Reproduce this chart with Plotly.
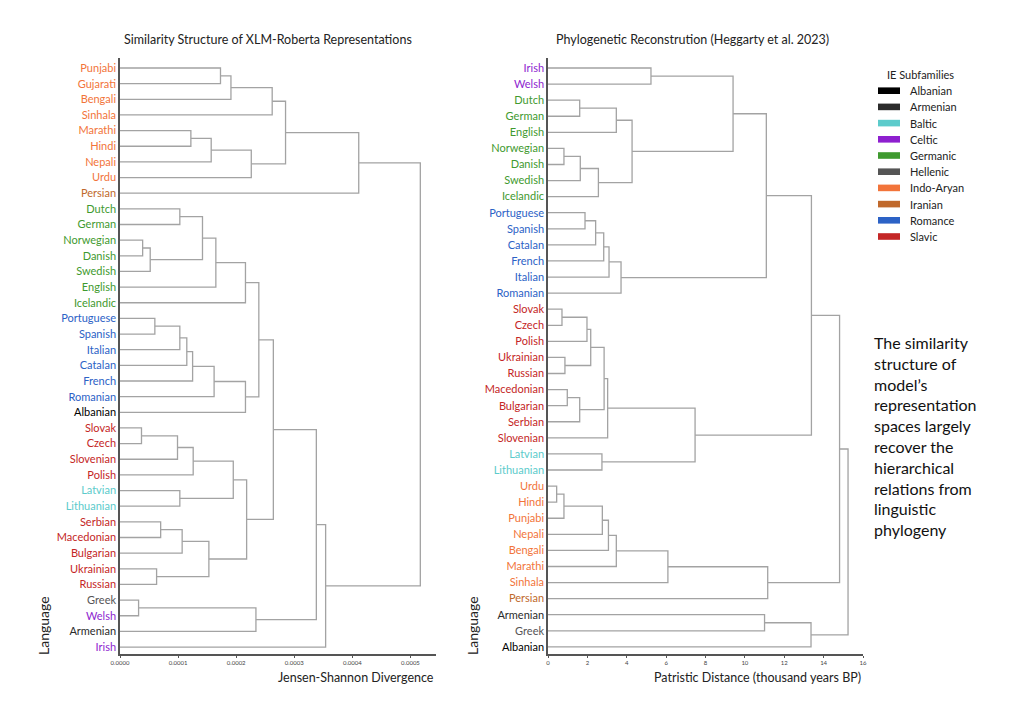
import plotly.graph_objects as go

# ---- data -------------------------------------------------------------
left_leaves = ["Punjabi", "Gujarati", "Bengali", "Sinhala", "Marathi", "Hindi", "Nepali", "Urdu",
               "Persian", "Dutch", "German", "Norwegian", "Danish", "Swedish", "English", "Icelandic",
               "Portuguese", "Spanish", "Italian", "Catalan", "French", "Romanian", "Albanian",
               "Slovak", "Czech", "Slovenian", "Polish", "Latvian", "Lithuanian", "Serbian",
               "Macedonian", "Bulgarian", "Ukrainian", "Russian", "Greek", "Welsh", "Armenian", "Irish"]

# (child a, child b, height, new cluster name)
left_merges = [
    ("Punjabi", "Gujarati", 0.000173, "L1"), ("L1", "Bengali", 0.000191, "L2"),
    ("L2", "Sinhala", 0.000262, "L3"), ("Marathi", "Hindi", 0.000122, "L4"),
    ("L4", "Nepali", 0.000157, "L5"), ("L5", "Urdu", 0.000226, "L6"),
    ("L3", "L6", 0.000285, "L7"), ("L7", "Persian", 0.000411, "L8"),
    ("Dutch", "German", 0.000103, "G1"), ("Norwegian", "Danish", 0.000039, "G2"),
    ("G2", "Swedish", 0.000052, "G3"), ("G1", "G3", 0.000142, "G4"),
    ("G4", "English", 0.000165, "G5"), ("G5", "Icelandic", 0.000216, "G6"),
    ("Portuguese", "Spanish", 0.000060, "R1"), ("R1", "Italian", 0.000103, "R2"),
    ("R2", "Catalan", 0.000115, "R3"), ("R3", "French", 0.000125, "R4"),
    ("R4", "Romanian", 0.000162, "R5"), ("R5", "Albanian", 0.000216, "R6"),
    ("G6", "R6", 0.000239, "E1"),
    ("Slovak", "Czech", 0.000037, "S1"), ("S1", "Slovenian", 0.000099, "S2"),
    ("S2", "Polish", 0.000126, "S3"), ("Latvian", "Lithuanian", 0.000103, "B1"),
    ("S3", "B1", 0.000195, "S4"), ("Serbian", "Macedonian", 0.000070, "S5"),
    ("S5", "Bulgarian", 0.000107, "S6"), ("Ukrainian", "Russian", 0.000063, "S7"),
    ("S6", "S7", 0.000153, "S8"), ("S4", "S8", 0.000218, "S9"),
    ("E1", "S9", 0.000264, "E2"), ("Greek", "Welsh", 0.000032, "H1"),
    ("H1", "Armenian", 0.000234, "H2"), ("E2", "H2", 0.000338, "E3"),
    ("E3", "Irish", 0.000354, "E4"), ("L8", "E4", 0.000517, "ROOT"),
]

right_leaves = ["Irish", "Welsh", "Dutch", "German", "English", "Norwegian", "Danish", "Swedish",
                "Icelandic", "Portuguese", "Spanish", "Catalan", "French", "Italian", "Romanian",
                "Slovak", "Czech", "Polish", "Ukrainian", "Russian", "Macedonian", "Bulgarian",
                "Serbian", "Slovenian", "Latvian", "Lithuanian", "Urdu", "Hindi", "Punjabi", "Nepali",
                "Bengali", "Marathi", "Sinhala", "Persian", "Armenian", "Greek", "Albanian"]

right_merges = [
    ("Irish", "Welsh", 5.23, "C1"), ("Dutch", "German", 1.61, "G1"),
    ("G1", "English", 3.47, "G2"), ("Norwegian", "Danish", 0.81, "G3"),
    ("G3", "Swedish", 1.64, "G4"), ("G4", "Icelandic", 2.56, "G5"),
    ("G2", "G5", 4.27, "G6"), ("C1", "G6", 9.40, "CG"),
    ("Portuguese", "Spanish", 1.88, "R1"), ("R1", "Catalan", 2.42, "R2"),
    ("R2", "French", 2.83, "R3"), ("R3", "Italian", 3.10, "R4"),
    ("R4", "Romanian", 3.71, "R5"), ("CG", "R5", 11.09, "CGR"),
    ("Slovak", "Czech", 0.71, "S1"), ("S1", "Polish", 1.98, "S2"),
    ("Ukrainian", "Russian", 0.86, "S3"), ("S2", "S3", 2.17, "S4"),
    ("Macedonian", "Bulgarian", 0.98, "S5"), ("S5", "Serbian", 1.61, "S6"),
    ("S4", "S6", 2.85, "S7"), ("S7", "Slovenian", 3.03, "S8"),
    ("Latvian", "Lithuanian", 2.74, "B1"), ("S8", "B1", 7.47, "BS"),
    ("CGR", "BS", 13.38, "EU"),
    ("Urdu", "Hindi", 0.44, "I1"), ("I1", "Punjabi", 0.81, "I2"),
    ("I2", "Nepali", 2.76, "I3"), ("I3", "Bengali", 3.07, "I4"),
    ("I4", "Marathi", 3.47, "I5"), ("I5", "Sinhala", 6.09, "I6"),
    ("I6", "Persian", 11.16, "I7"), ("EU", "I7", 14.81, "EI"),
    ("Armenian", "Greek", 11.00, "A1"), ("A1", "Albanian", 13.36, "A2"),
    ("EI", "A2", 15.24, "ROOT"),
]

families = ["Albanian", "Armenian", "Baltic", "Celtic", "Germanic", "Hellenic",
            "Indo-Aryan", "Iranian", "Romance", "Slavic"]
family_colors = ["#000000", "#2b2b2b", "#5ccbcb", "#8e1fcf", "#3f9a2f", "#555555",
                 "#f2743a", "#c0692c", "#2c62c6", "#c42626"]

language_family = {
    "Punjabi": "Indo-Aryan", "Gujarati": "Indo-Aryan", "Bengali": "Indo-Aryan",
    "Sinhala": "Indo-Aryan", "Marathi": "Indo-Aryan", "Hindi": "Indo-Aryan",
    "Nepali": "Indo-Aryan", "Urdu": "Indo-Aryan", "Persian": "Iranian",
    "Dutch": "Germanic", "German": "Germanic", "Norwegian": "Germanic", "Danish": "Germanic",
    "Swedish": "Germanic", "English": "Germanic", "Icelandic": "Germanic",
    "Portuguese": "Romance", "Spanish": "Romance", "Italian": "Romance", "Catalan": "Romance",
    "French": "Romance", "Romanian": "Romance", "Albanian": "Albanian",
    "Slovak": "Slavic", "Czech": "Slavic", "Slovenian": "Slavic", "Polish": "Slavic",
    "Serbian": "Slavic", "Macedonian": "Slavic", "Bulgarian": "Slavic",
    "Ukrainian": "Slavic", "Russian": "Slavic", "Latvian": "Baltic", "Lithuanian": "Baltic",
    "Greek": "Hellenic", "Welsh": "Celtic", "Irish": "Celtic", "Armenian": "Armenian",
}

color_of = dict(zip(families, family_colors))
FONT = "Lato"
LINE_COLOR = "#a3a3a3"
AXIS_COLOR = "#555555"
TEXT_COLOR = "#222222"


def dendro_lines(leaves, merges):
    """U-shaped segments for every merge, leaves sit at height 0"""
    pos = {name: i for i, name in enumerate(leaves)}
    height = {name: 0.0 for name in leaves}
    xs, ys = [], []
    for a, b, h, new in merges:
        xs += [height[a], h, h, height[b], None]
        ys += [pos[a], pos[a], pos[b], pos[b], None]
        pos[new] = (pos[a] + pos[b]) / 2
        height[new] = h
    return xs, ys


def tick_labels(leaves):
    return [f'<span style="color:{color_of[language_family[n]]}">{n}</span>' for n in leaves]


fig = go.Figure()

lx, ly = dendro_lines(left_leaves, left_merges)
fig.add_trace(go.Scatter(x=lx, y=ly, mode="lines", line=dict(color=LINE_COLOR, width=1.3),
                         xaxis="x", yaxis="y", showlegend=False, hoverinfo="skip"))
rx, ry = dendro_lines(right_leaves, right_merges)
fig.add_trace(go.Scatter(x=rx, y=ry, mode="lines", line=dict(color=LINE_COLOR, width=1.3),
                         xaxis="x2", yaxis="y2", showlegend=False, hoverinfo="skip"))

# page has an 8px body margin, so the figure is a bit smaller than the window
OFF = 8
W, H = 1024 - OFF, 704 - OFF
px = lambda v: (v - OFF) / W
py = lambda v: 1 - (v - OFF) / H

n_left = len(left_leaves)
n_right = len(right_leaves)
ytop, ybot = 58, 654
lstep = 15.65
rstep = 16.08

axis_common = dict(showline=True, linecolor=AXIS_COLOR, linewidth=1.5, showgrid=False,
                   zeroline=False, mirror=False, automargin=False)

fig.update_layout(
    width=W, height=H,
    margin=dict(l=0, r=0, t=0, b=0),
    paper_bgcolor="white", plot_bgcolor="white",
    showlegend=False,
    font=dict(family=FONT, color=TEXT_COLOR),
    xaxis=dict(domain=[px(120), px(436)], range=[0, 0.000544], anchor="y",
               tickvals=[0, 0.0001, 0.0002, 0.0003, 0.0004, 0.0005], tickformat=".4f",
               ticks="outside", ticklen=2, tickcolor=AXIS_COLOR,
               tickfont=dict(size=6, color="#444444"), **axis_common),
    yaxis=dict(domain=[py(ybot), py(ytop)], anchor="x",
               range=[(ybot - 68) / lstep, (ytop - 68) / lstep],
               tickvals=list(range(n_left)), ticktext=tick_labels(left_leaves),
               ticks="", tickfont=dict(size=11), **axis_common),
    xaxis2=dict(domain=[px(548), px(863)], range=[0, 16], anchor="y2",
                tickvals=list(range(0, 17, 2)), ticks="outside", ticklen=2, tickcolor=AXIS_COLOR,
                tickfont=dict(size=6, color="#444444"), **axis_common),
    yaxis2=dict(domain=[py(ybot), py(ytop)], anchor="x2",
                range=[(ybot - 68) / rstep, (ytop - 68) / rstep],
                tickvals=list(range(n_right)), ticktext=tick_labels(right_leaves),
                ticks="", tickfont=dict(size=11), **axis_common),
)

# legend drawn as swatches + labels
legend_top, legend_step = 90.7, 16.2
shapes = []
annotations = [dict(text="IE Subfamilies", x=px(885), y=py(74), xanchor="left",
                    font=dict(size=11, color=TEXT_COLOR))]
for i, (fam, col) in enumerate(zip(families, family_colors)):
    yc = legend_top + i * legend_step
    shapes.append(dict(type="rect", xref="paper", yref="paper", x0=px(878), x1=px(900),
                       y0=py(yc + 3.3), y1=py(yc - 3.3), fillcolor=col, line=dict(width=0)))
    annotations.append(dict(text=fam, x=px(908), y=py(yc), xanchor="left",
                            font=dict(size=11, color=TEXT_COLOR)))

annotations += [
    dict(text="Similarity Structure of XLM-Roberta Representations", x=px(268), y=py(40),
         font=dict(size=12.5, color=TEXT_COLOR)),
    dict(text="Phylogenetic Reconstrution (Heggarty et al. 2023)", x=px(692), y=py(40),
         font=dict(size=12.5, color=TEXT_COLOR)),
    dict(text="Jensen-Shannon Divergence", x=px(436), y=py(677), xanchor="right",
         font=dict(size=12.5, color=TEXT_COLOR)),
    dict(text="Patristic Distance (thousand years BP)", x=px(863), y=py(677), xanchor="right",
         font=dict(size=12.5, color=TEXT_COLOR)),
    dict(text="Language", x=px(43), y=py(626), textangle=-90, font=dict(size=14, color=TEXT_COLOR)),
    dict(text="Language", x=px(472), y=py(626), textangle=-90, font=dict(size=14, color=TEXT_COLOR)),
    dict(text="The similarity<br>structure of<br>model’s<br>representation<br>spaces largely"
              "<br>recover the<br>hierarchical<br>relations from<br>linguistic<br>phylogeny",
         x=px(872), y=py(331), xanchor="left", yanchor="top", align="left",
         font=dict(size=16, color="#111111")),
]
for a in annotations:
    a.setdefault("xanchor", "center")
    a.setdefault("yanchor", "middle")
    fig.add_annotation(xref="paper", yref="paper", showarrow=False, **a)
fig.update_layout(shapes=shapes)

fig.write_html("out.html")
